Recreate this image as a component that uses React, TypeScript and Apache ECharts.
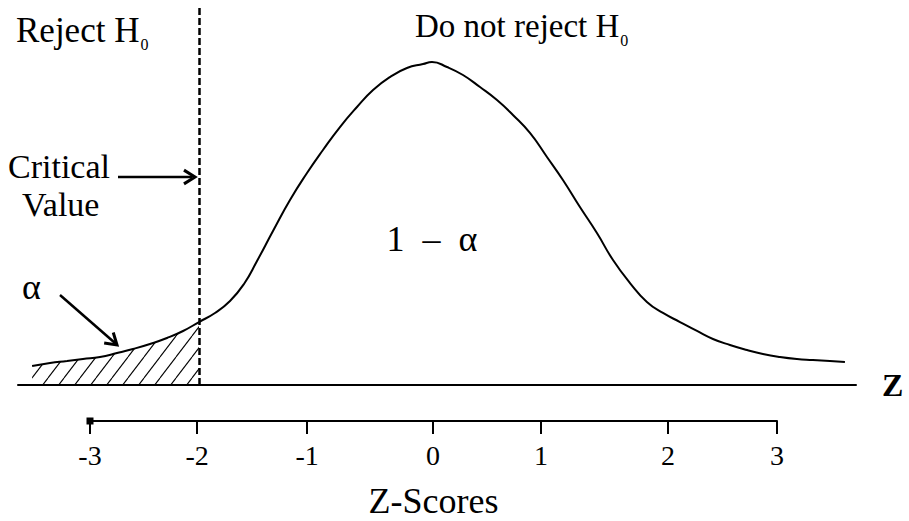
import React, { useEffect, useRef } from 'react';
import * as echarts from 'echarts';

// Density curve, sampled along the z axis
const curveZ = [
  -3.433, -3.279, -3.133, -2.996, -2.85, -2.704, -2.567, -2.421, -2.275, -2.137,
  -2.0, -1.863, -1.734, -1.614, -1.502, -1.365, -1.219, -1.073, -0.936, -0.79,
  -0.644, -0.506, -0.361, -0.215, -0.077, 0.0, 0.129, 0.266, 0.412, 0.558,
  0.695, 0.841, 0.987, 1.124, 1.27, 1.416, 1.554, 1.7, 1.845, 1.983,
  2.129, 2.275, 2.412, 2.558, 2.704, 2.841, 2.987, 3.133, 3.27, 3.416, 3.545,
];
const curveDensity = [
  0.0235, 0.0272, 0.0297, 0.0322, 0.0347, 0.0396, 0.0446, 0.0508, 0.0582, 0.0669,
  0.078, 0.0892, 0.104, 0.1251, 0.1536, 0.1907, 0.2291, 0.2625, 0.291, 0.3195,
  0.3443, 0.3653, 0.3814, 0.3926, 0.3975, 0.4, 0.3938, 0.3839, 0.369, 0.3529,
  0.3344, 0.3121, 0.2824, 0.2539, 0.2204, 0.1882, 0.1548, 0.1263, 0.1028, 0.0892,
  0.078, 0.0669, 0.057, 0.0495, 0.0433, 0.0384, 0.0347, 0.0322, 0.031, 0.0297, 0.0285,
];

// Critical value separating the rejection region
const criticalZ = -2.0;

// Z-score scale below the curve
const tickLabels = ['-3', '-2', '-1', '0', '1', '2', '3'];
const tickPositions = [-2.936, -2.017, -1.073, 0.009, 0.936, 2.026, 2.961];

const SERIF = '"Liberation Serif", "Times New Roman", serif';

function makeHatch(): HTMLCanvasElement {
  const w = 16;
  const h = 21;
  const c = document.createElement('canvas');
  c.width = w;
  c.height = h;
  const ctx = c.getContext('2d')!;
  ctx.strokeStyle = '#000';
  ctx.lineWidth = 1.1;
  for (const dx of [-w, 0, w]) {
    ctx.beginPath();
    ctx.moveTo(dx, h);
    ctx.lineTo(dx + w, 0);
    ctx.stroke();
  }
  return c;
}

function textWidth(text: string, font: string): number {
  const c = document.createElement('canvas');
  const ctx = c.getContext('2d')!;
  ctx.font = font;
  return ctx.measureText(text).width;
}

function arrowHead(tip: number[], from: number[], len: number, deg: number) {
  const a = Math.atan2(tip[1] - from[1], tip[0] - from[0]);
  const r = (deg * Math.PI) / 180;
  return [
    [tip[0] - len * Math.cos(a - r), tip[1] - len * Math.sin(a - r)],
    [tip[0], tip[1]],
    [tip[0] - len * Math.cos(a + r), tip[1] - len * Math.sin(a + r)],
  ];
}

export default function App() {
  const ref = useRef<HTMLDivElement>(null);

  useEffect(() => {
    if (!ref.current) return;
    const chart = echarts.init(ref.current, null, { renderer: 'svg' });

    const curve = curveZ.map((z, i) => [z, curveDensity[i]]);
    const tail = curve.filter((p) => p[0] <= criticalZ);

    const leftHead = 'Reject H';
    const rightHead = 'Do not reject H';
    const leftSize = 35;
    const rightSize = 33;
    const leftHeadX = 16;
    const rightHeadX = 415;
    const leftSubX = leftHeadX + textWidth(leftHead, `${leftSize}px ${SERIF}`) + 1;
    const rightSubX = rightHeadX + textWidth(rightHead, `${rightSize}px ${SERIF}`) + 1;

    const textEl = (text: string, x: number, y: number, size: number, align = 'left') => ({
      type: 'text',
      silent: true,
      style: {
        text,
        x,
        y,
        fontSize: size,
        fontFamily: SERIF,
        fill: '#000',
        align,
        verticalAlign: 'middle',
      },
    });

    const lineEl = (pts: number[][], width: number) => ({
      type: 'polyline',
      silent: true,
      shape: { points: pts },
      style: { stroke: '#000', lineWidth: width, fill: null, lineJoin: 'miter' },
    });

    const critFrom = [118, 177];
    const critTip = [195, 177];
    const alphaFrom = [60, 295];
    const alphaTip = [117, 345];

    chart.setOption({
      animation: false,
      backgroundColor: '#fff',
      grid: [
        { left: 18, right: 53, top: 8, bottom: 136 },
        { left: 90, right: 132, top: 411, bottom: 100 },
      ],
      xAxis: [
        {
          type: 'value',
          gridIndex: 0,
          min: -3.554,
          max: 3.64,
          axisLine: { show: true, lineStyle: { color: '#000', width: 2 } },
          axisTick: { show: false },
          axisLabel: { show: false },
          splitLine: { show: false },
          name: 'Z',
          nameLocation: 'end',
          nameGap: 26,
          nameTextStyle: {
            fontSize: 32,
            fontWeight: 'bold',
            fontFamily: SERIF,
            color: '#000',
            verticalAlign: 'middle',
          },
        },
        {
          type: 'value',
          gridIndex: 1,
          min: tickPositions[0],
          max: tickPositions[tickPositions.length - 1],
          axisLine: {
            show: true,
            lineStyle: { color: '#000', width: 2 },
            symbol: ['rect', 'none'],
            symbolSize: [7, 7],
          },
          axisTick: {
            show: true,
            customValues: tickPositions,
            length: 13,
            lineStyle: { color: '#000', width: 2 },
          },
          axisLabel: {
            show: true,
            customValues: tickPositions,
            margin: 20,
            fontSize: 28,
            fontFamily: SERIF,
            color: '#000',
            formatter: (v: number) => {
              let best = 0;
              tickPositions.forEach((p, i) => {
                if (Math.abs(p - v) < Math.abs(tickPositions[best] - v)) best = i;
              });
              return tickLabels[best];
            },
          },
          splitLine: { show: false },
          name: 'Z-Scores',
          nameLocation: 'middle',
          nameGap: 62,
          nameTextStyle: { fontSize: 36, fontFamily: SERIF, color: '#000' },
        },
      ],
      yAxis: [
        { type: 'value', gridIndex: 0, min: 0, max: 0.4669, show: false },
        { type: 'value', gridIndex: 1, min: 0, max: 1, show: false },
      ],
      series: [
        {
          type: 'line',
          name: 'alpha',
          xAxisIndex: 0,
          yAxisIndex: 0,
          data: tail,
          smooth: 0.5,
          symbol: 'none',
          silent: true,
          lineStyle: { width: 0 },
          areaStyle: {
            opacity: 1,
            color: { image: makeHatch(), repeat: 'repeat', imageWidth: 16, imageHeight: 21 } as any,
          },
          z: 1,
        },
        {
          type: 'line',
          name: 'density',
          xAxisIndex: 0,
          yAxisIndex: 0,
          data: curve,
          smooth: 0.5,
          symbol: 'none',
          silent: true,
          lineStyle: { color: '#000', width: 2 },
          z: 3,
          markLine: {
            silent: true,
            symbol: 'none',
            label: { show: false },
            lineStyle: { color: '#000', width: 2.5, type: [7, 3] },
            data: [{ xAxis: criticalZ }],
          },
        },
      ],
      graphic: [
        textEl(leftHead, leftHeadX, 30, leftSize),
        textEl('0', leftSubX, 44, 16),
        textEl(rightHead, rightHeadX, 26, rightSize),
        textEl('0', rightSubX, 40, 16),
        textEl('Critical', 8, 166, 34),
        textEl('Value', 22, 204, 34),
        textEl('α', 22, 287, 36),
        textEl('1  –  α', 432, 239, 36, 'center'),
        lineEl([critFrom, [critTip[0] - 3, critTip[1]]], 2.5),
        lineEl(arrowHead(critTip, critFrom, 13, 32), 3),
        lineEl([alphaFrom, [alphaTip[0] - 2, alphaTip[1] - 2]], 2.5),
        lineEl(arrowHead(alphaTip, alphaFrom, 13, 32), 3),
      ],
    });

    return () => chart.dispose();
  }, []);

  return (
    <div
      ref={ref}
      style={{ position: 'fixed', left: 0, top: 0, width: 909, height: 521, background: '#fff' }}
    />
  );
}
